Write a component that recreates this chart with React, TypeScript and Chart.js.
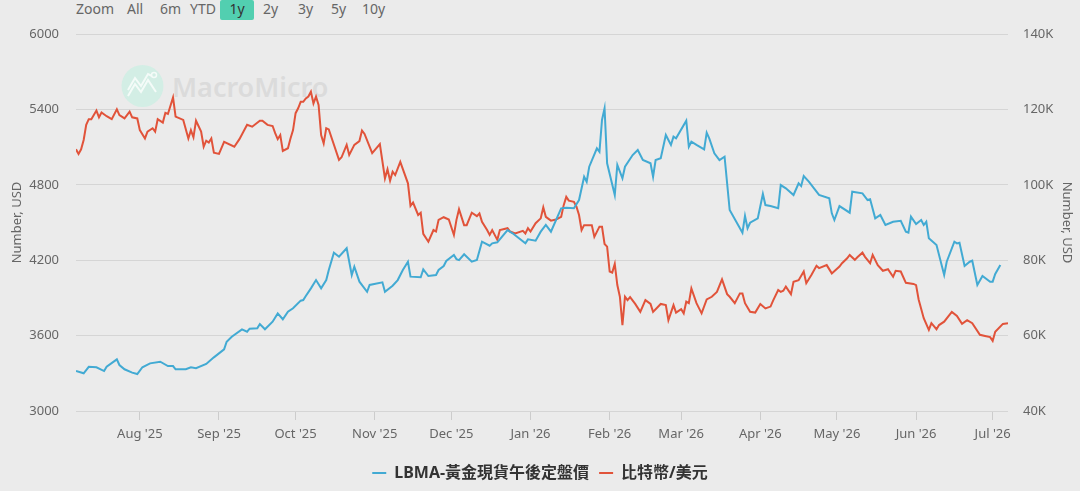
import React, { useEffect, useRef } from 'react';
import { Chart, registerables } from 'chart.js';

Chart.register(...registerables);

// ---- data ----
const START_DATE = '2025-07-07';
const RANGE_DAYS = 365;

const monthStarts = ['2025-08-01', '2025-09-01', '2025-10-01', '2025-11-01', '2025-12-01', '2026-01-01', '2026-02-01', '2026-03-01', '2026-04-01', '2026-05-01', '2026-06-01', '2026-07-01'];
const monthLabels = ["Aug '25", "Sep '25", "Oct '25", "Nov '25", "Dec '25", "Jan '26", "Feb '26", "Mar '26", "Apr '26", "May '26", "Jun '26", "Jul '26"];

const seriesNames = ['LBMA-黃金現貨午後定盤價', '比特幣/美元'];

// gold: day offset from START_DATE, USD
const goldDays = [0, 3, 5, 8, 11, 12, 16, 17, 19, 22, 24, 26, 29, 33, 36, 38, 39, 43, 45, 47, 51, 54, 58, 59, 61, 65, 67, 68, 71, 72, 74, 77, 79, 81, 83, 85, 88, 89, 90, 92, 94, 96, 98, 99, 101, 103, 106, 108, 109, 111, 114, 115, 120, 121, 124, 126, 128, 130, 131, 135, 136, 138, 141, 142, 144, 145, 148, 149, 150, 152, 155, 157, 159, 162, 163, 165, 169, 171, 176, 177, 180, 182, 184, 186, 190, 192, 195, 197, 199, 200, 201, 204, 205, 206, 207, 208, 211, 212, 214, 215, 218, 220, 222, 225, 226, 227, 229, 231, 233, 234, 235, 239, 240, 241, 243, 246, 247, 248, 250, 252, 254, 256, 261, 262, 263, 264, 267, 269, 270, 272, 275, 276, 278, 281, 283, 284, 285, 287, 291, 295, 296, 297, 299, 303, 304, 308, 310, 311, 313, 315, 317, 320, 323, 325, 326, 327, 329, 331, 332, 333, 334, 337, 340, 341, 344, 345, 346, 348, 350, 351, 353, 355, 358, 359, 360, 362];
const goldValues = [3318, 3300, 3352, 3348, 3318, 3352, 3411, 3366, 3332, 3305, 3294, 3348, 3379, 3392, 3358, 3358, 3332, 3332, 3348, 3340, 3374, 3427, 3491, 3551, 3591, 3650, 3631, 3655, 3658, 3692, 3650, 3711, 3777, 3730, 3790, 3817, 3878, 3883, 3915, 3976, 4042, 3976, 4042, 4122, 4260, 4228, 4295, 4082, 4148, 4029, 3949, 4003, 4024, 3949, 3997, 4042, 4122, 4188, 4069, 4064, 4127, 4074, 4082, 4122, 4154, 4194, 4241, 4209, 4201, 4247, 4188, 4201, 4347, 4315, 4334, 4342, 4440, 4414, 4334, 4366, 4355, 4427, 4480, 4427, 4613, 4618, 4613, 4679, 4864, 4824, 4944, 5090, 5063, 5316, 5409, 4971, 4719, 4958, 4852, 4944, 5037, 5077, 4997, 4971, 4864, 4997, 5011, 5196, 5117, 5183, 5170, 5310, 5103, 5143, 5117, 5082, 5215, 5170, 5051, 4997, 5024, 4599, 4419, 4552, 4454, 4498, 4533, 4727, 4639, 4631, 4613, 4798, 4772, 4719, 4812, 4790, 4870, 4825, 4719, 4692, 4573, 4520, 4631, 4578, 4745, 4732, 4679, 4685, 4533, 4560, 4480, 4506, 4514, 4427, 4419, 4546, 4488, 4520, 4480, 4506, 4374, 4321, 4082, 4188, 4347, 4334, 4339, 4154, 4188, 4196, 4003, 4074, 4029, 4029, 4090, 4162];

// bitcoin: day offset from START_DATE, USD
const btcDays = [0, 1, 2, 3, 4, 5, 6, 8, 9, 10, 12, 14, 16, 17, 19, 21, 22, 24, 25, 27, 28, 30, 31, 32, 34, 35, 36, 38, 39, 42, 44, 45, 46, 47, 49, 50, 51, 52, 53, 54, 56, 58, 62, 64, 67, 69, 72, 73, 75, 77, 78, 79, 80, 81, 83, 84, 85, 86, 87, 88, 89, 90, 91, 92, 93, 94, 95, 96, 97, 98, 99, 103, 104, 106, 107, 109, 111, 112, 113, 116, 119, 121, 122, 123, 124, 125, 127, 130, 131, 132, 134, 135, 136, 138, 140, 141, 142, 144, 146, 148, 149, 150, 152, 153, 155, 157, 158, 159, 161, 162, 163, 165, 166, 169, 170, 172, 175, 176, 177, 178, 180, 182, 183, 184, 186, 188, 190, 191, 192, 193, 195, 196, 197, 198, 199, 202, 203, 205, 206, 207, 208, 209, 210, 211, 212, 213, 214, 215, 216, 217, 219, 221, 223, 225, 226, 229, 231, 232, 234, 235, 237, 238, 239, 240, 241, 243, 245, 247, 249, 251, 253, 255, 256, 258, 260, 261, 262, 264, 266, 268, 270, 272, 273, 275, 276, 277, 278, 280, 281, 283, 285, 286, 288, 290, 291, 294, 296, 299, 300, 302, 303, 305, 306, 308, 309, 311, 312, 314, 316, 318, 320, 321, 323, 325, 328, 329, 330, 332, 334, 335, 337, 338, 340, 343, 345, 347, 349, 351, 354, 356, 358, 359, 360, 363, 365];
const btcValues = [109400, 108200, 109400, 111900, 115900, 117400, 117400, 119700, 117900, 119200, 118200, 117400, 120000, 118500, 117600, 119400, 117900, 117600, 114500, 112300, 114100, 115000, 114100, 117400, 116500, 119100, 118800, 123200, 118100, 117200, 112300, 114500, 112600, 117000, 114100, 110100, 111700, 111200, 112300, 108500, 108200, 111400, 110100, 112100, 115900, 115400, 117000, 117000, 115900, 115600, 113700, 112100, 113200, 109000, 109700, 112300, 114500, 119000, 120300, 122000, 122000, 122900, 123400, 124700, 121600, 123400, 121200, 113200, 111000, 115000, 114700, 106600, 107300, 110600, 107900, 110600, 111600, 114400, 113500, 108400, 110800, 101700, 104100, 101100, 103500, 102600, 106100, 100400, 94400, 95300, 92000, 92600, 87000, 84900, 88000, 87600, 90700, 91400, 90800, 86700, 90700, 93500, 89300, 89300, 92600, 91700, 92400, 90200, 88000, 86700, 88000, 85400, 88000, 88500, 87600, 87100, 87800, 87100, 88500, 87600, 89800, 91100, 94000, 91500, 90500, 90800, 91500, 94600, 96800, 95800, 95500, 94200, 92000, 88000, 89300, 89300, 86200, 88900, 88900, 84300, 83600, 77000, 76700, 79000, 73400, 70300, 62800, 70300, 69400, 70200, 68400, 66300, 69400, 68400, 66300, 68400, 68100, 64100, 68100, 66100, 67000, 65900, 69000, 68600, 72500, 68600, 65900, 69600, 70300, 71600, 74900, 71000, 70300, 68600, 71200, 71200, 68600, 66300, 66100, 68400, 67200, 67700, 69300, 72100, 71600, 71900, 73000, 71000, 74300, 74700, 77000, 73900, 76100, 78500, 77900, 78700, 76500, 78300, 79200, 80500, 81400, 80100, 80800, 82000, 80900, 79200, 81400, 78700, 77200, 77600, 75600, 77200, 77000, 74000, 73700, 73400, 69600, 64600, 61500, 63300, 61700, 62800, 63700, 66300, 65200, 63100, 64100, 63300, 60200, 59900, 59600, 58600, 61000, 63100, 63300];

const zoomButtons = ['Zoom', 'All', '6m', 'YTD', '1y', '2y', '3y', '5y', '10y'];

// ---- styles ----
const BLUE = '#42aad3';
const RED = '#e1533a';
const BG = '#ebebeb';
const FONT = "'Noto Sans', 'Noto Sans CJK TC', sans-serif";

const dayOffset = (s: string) => (Date.parse(s) - Date.parse(START_DATE)) / 86400000;
const tickDays = monthStarts.map(dayOffset);

const btnLeft = [76, 127, 160, 190, 220, 263, 298, 331, 362];

export default function App() {
  const ref = useRef<HTMLCanvasElement | null>(null);

  useEffect(() => {
    if (!ref.current) return;
    const chart = new Chart(ref.current, {
      type: 'line',
      data: {
        datasets: [
          {
            label: seriesNames[0],
            data: goldDays.map((d, i) => ({ x: d, y: goldValues[i] })),
            borderColor: BLUE,
            backgroundColor: BLUE,
            borderWidth: 2,
            pointRadius: 0,
            tension: 0,
            yAxisID: 'y',
          },
          {
            label: seriesNames[1],
            data: btcDays.map((d, i) => ({ x: d, y: btcValues[i] })),
            borderColor: RED,
            backgroundColor: RED,
            borderWidth: 2,
            pointRadius: 0,
            tension: 0,
            yAxisID: 'y1',
          },
        ],
      },
      options: {
        animation: false,
        responsive: true,
        maintainAspectRatio: false,
        layout: { padding: { top: 34, left: 0, right: 0, bottom: 0 } },
        plugins: {
          tooltip: { enabled: false },
          legend: {
            position: 'bottom',
            labels: {
              color: '#333',
              font: { family: FONT, size: 16, weight: 'bold' },
              boxWidth: 14,
              boxHeight: 2,
              padding: 10,
              generateLabels: (c: any) =>
                Chart.defaults.plugins.legend.labels.generateLabels(c).map((it: any) => ({ ...it, lineWidth: 0 })),
            },
          },
        },
        scales: {
          x: {
            type: 'linear',
            min: 0,
            max: RANGE_DAYS,
            position: 'bottom',
            afterBuildTicks: (s: any) => {
              s.ticks = tickDays.map((v) => ({ value: v }));
            },
            afterFit: (s: any) => {
              s.height = 44;
            },
            ticks: {
              autoSkip: false,
              maxRotation: 0,
              color: '#666',
              font: { family: FONT, size: 13 },
              padding: 6,
              callback: (_v: any, i: number) => monthLabels[i],
            },
            grid: { drawOnChartArea: false, drawTicks: true, tickLength: 9, color: '#cccccc' },
            border: { display: false },
          },
          y: {
            position: 'left',
            min: 3000,
            max: 6000,
            afterFit: (s: any) => {
              s.width = 76;
            },
            ticks: {
              stepSize: 600,
              color: '#666',
              font: { family: FONT, size: 13 },
              padding: 17,
              callback: (v: any) => String(v),
            },
            grid: { color: '#d5d5d5', lineWidth: 1, drawTicks: false },
            border: { display: false },
            title: { display: true, text: 'Number, USD', color: '#666', font: { family: FONT, size: 13 }, padding: { top: 9, bottom: 0 } },
          },
          y1: {
            position: 'right',
            min: 40000,
            max: 140000,
            afterFit: (s: any) => {
              s.width = 72;
            },
            ticks: {
              stepSize: 20000,
              color: '#666',
              font: { family: FONT, size: 13 },
              padding: 15,
              callback: (v: any) => `${Number(v) / 1000}K`,
            },
            grid: { display: false, drawTicks: false },
            border: { display: false },
            title: { display: true, text: 'Number, USD', color: '#666', font: { family: FONT, size: 13 }, padding: { top: 5, bottom: 0 } },
          },
        },
      } as any,
    });
    return () => chart.destroy();
  }, []);

  return (
    <div style={{ position: 'fixed', left: 0, top: 0, width: 1080, height: 491, background: BG, overflow: 'hidden', fontFamily: FONT }}>
      {/* watermark */}
      <svg style={{ position: 'absolute', left: 0, top: 0 }} width={1080} height={491}>
        <circle cx={142.5} cy={86} r={21} fill="#d3eee5" />
        <polyline points="128,96 135,84 141,92 148,80 156,92" fill="none" stroke="#f4fbf8" strokeWidth={2} />
        <polyline points="128,90 135,78 141,86 148,74 152,76" fill="none" stroke="#f4fbf8" strokeWidth={2} />
        <circle cx={154} cy={75} r={2.5} fill="none" stroke="#f4fbf8" strokeWidth={1.5} />
      </svg>
      <div style={{ position: 'absolute', left: 172, top: 70, fontSize: 27, fontWeight: 600, color: '#dbdbdb', lineHeight: '34px' }}>
        MacroMicro
      </div>
      {/* range selector */}
      {zoomButtons.map((b, i) =>
        b === '1y' ? (
          <div key={b} style={{ position: 'absolute', left: btnLeft[i], top: 0, width: 34, height: 20, background: '#52cfb0', borderRadius: 2, color: '#333', fontSize: 14, lineHeight: '18px', textAlign: 'center' }}>
            {b}
          </div>
        ) : (
          <div key={b} style={{ position: 'absolute', left: btnLeft[i], top: 0, color: '#666', fontSize: 14, lineHeight: '18px' }}>
            {b}
          </div>
        )
      )}
      <div style={{ position: 'absolute', left: 0, top: 0, width: 1080, height: 491 }}>
        <canvas ref={ref} />
      </div>
    </div>
  );
}
